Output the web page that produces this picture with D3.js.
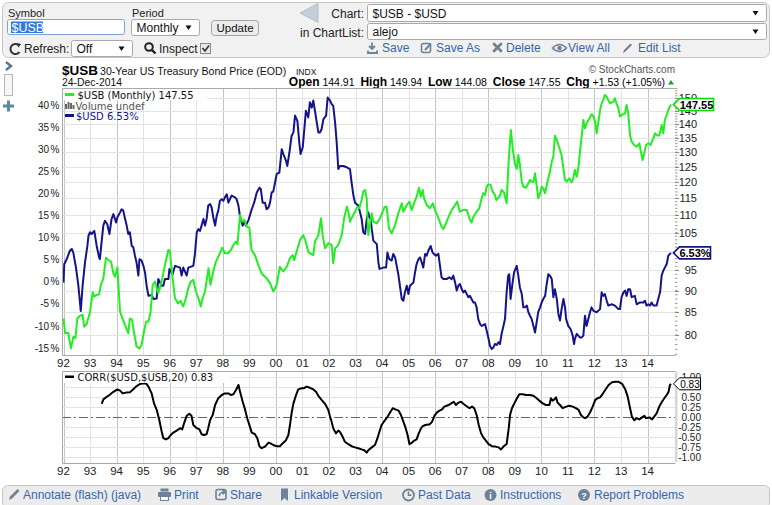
<!DOCTYPE html>
<html><head><meta charset="utf-8"><title>$USB - $USD</title>
<script src="https://cdnjs.cloudflare.com/ajax/libs/d3/7.8.5/d3.min.js"></script>
<style>
html,body{margin:0;padding:0;background:#fff;overflow:hidden}
svg{display:block}
text{font-family:"Liberation Sans",Arial,sans-serif}
.dv{font-family:"DejaVu Sans",Verdana,sans-serif}
</style></head><body>
<svg id="chart" width="772" height="505" viewBox="0 0 772 505"></svg>
<script>
// ---------------- DATA ----------------
const usbDates = [
1992.00,1992.06,1992.18,1992.28,1992.37,1992.45,1992.52,1992.62,1992.72,1992.78,1992.87,
1993.00,1993.10,1993.16,1993.25,1993.34,1993.41,1993.50,1993.60,1993.69,1993.79,1993.88,1993.94,
1994.03,1994.13,1994.22,1994.34,1994.44,1994.50,1994.58,1994.65,1994.75,1994.86,1994.94,
1995.03,1995.11,1995.20,1995.28,1995.36,1995.45,1995.51,1995.57,1995.63,1995.72,1995.82,1995.95,
1996.01,1996.11,1996.20,1996.32,1996.41,1996.51,1996.61,1996.70,1996.79,1996.89,1996.99,
1997.08,1997.17,1997.24,1997.33,1997.46,1997.54,1997.64,1997.74,1997.86,1997.98,
1998.08,1998.21,1998.30,1998.40,1998.48,1998.55,1998.65,1998.73,1998.81,1998.90,
1999.00,1999.08,1999.21,1999.34,1999.46,1999.65,1999.78,1999.90,
2000.03,2000.15,2000.28,2000.41,2000.53,2000.63,2000.69,2000.78,2000.91,
2001.03,2001.10,2001.22,2001.28,2001.41,2001.47,2001.60,2001.70,2001.76,2001.85,2001.97,
2002.10,2002.16,2002.23,2002.35,2002.48,2002.57,2002.67,2002.73,2002.79,2002.85,2002.98,
2003.07,2003.14,2003.23,2003.29,2003.36,2003.42,2003.48,2003.54,2003.61,2003.67,2003.80,2003.92,
2004.02,2004.10,2004.17,2004.26,2004.36,2004.49,2004.61,2004.74,2004.80,2004.93,
2005.03,2005.11,2005.18,2005.30,2005.39,2005.46,2005.53,2005.58,2005.68,2005.80,2005.91,2005.99,
2006.12,2006.24,2006.31,2006.43,2006.56,2006.66,2006.75,2006.83,2006.93,
2007.06,2007.19,2007.31,2007.37,2007.44,2007.56,2007.66,2007.75,2007.81,2007.88,2007.94,
2008.00,2008.09,2008.16,2008.25,2008.30,2008.42,2008.50,2008.59,2008.69,2008.75,2008.79,2008.85,2008.92,
2009.01,2009.07,2009.13,2009.19,2009.26,2009.32,2009.42,2009.51,2009.57,2009.63,2009.70,2009.76,2009.82,2009.88,2009.95,
2010.01,2010.07,2010.14,2010.20,2010.26,2010.32,2010.39,2010.45,2010.51,2010.58,2010.64,2010.70,2010.76,2010.83,2010.89,2010.95,
2011.05,2011.14,2011.20,2011.26,2011.33,2011.39,2011.45,2011.52,2011.58,2011.64,2011.70,2011.80,2011.89,2011.96,
2012.02,2012.08,2012.14,2012.21,2012.27,2012.33,2012.39,2012.46,2012.52,2012.58,2012.71,2012.77,2012.83,2012.90,2012.96,
2013.02,2013.15,2013.21,2013.27,2013.34,2013.40,2013.49,2013.59,2013.69,2013.75,2013.81,2013.86,2013.94,
2014.03,2014.11,2014.19,2014.28,2014.37,2014.44,2014.53,2014.59,2014.65,2014.72,2014.78,2014.84,2014.88];
const usbPrices = [
83.6,80.4,80.4,77.2,79.6,79.4,83.6,84.2,84.4,81.8,82.3,
85.1,89.6,88.6,89.0,89.1,91.4,93.0,98.2,97.6,97.2,94.2,93.4,
95.7,85.1,83.6,81.8,80.4,83.6,83.3,80.7,77.6,77.2,77.9,
80.7,82.9,82.9,85.1,91.4,92.2,90.6,89.4,90.6,93.0,96.3,100.3,
99.8,93.0,88.2,87.0,87.6,86.3,88.2,90.6,92.2,92.6,89.8,
88.2,86.3,88.2,89.8,95.5,91.4,94.7,97.2,98.9,100.9,
99.4,99.4,100.2,101.6,102.5,101.8,110.0,108.1,108.6,106.7,
106.4,100.3,98.9,96.3,94.2,93.0,91.8,89.8,
91.4,95.9,94.7,95.9,98.1,98.9,97.6,99.8,103.0,
104.3,103.0,99.8,99.4,98.9,102.5,104.3,109.1,104.3,100.7,102.1,
101.6,96.8,100.7,101.6,104.3,109.1,112.5,111.0,108.1,109.1,111.0,
112.5,112.0,114.5,117.1,117.6,115.0,104.3,107.2,110.5,108.1,107.6,109.1,
111.0,112.5,112.5,106.2,104.8,107.2,110.5,113.5,111.0,113.0,
114.0,111.5,113.0,115.5,118.3,115.5,117.6,115.0,113.0,112.0,113.5,111.5,
109.1,106.7,106.0,108.1,110.5,112.0,113.0,114.0,111.0,
111.5,111.5,108.6,107.9,109.5,111.0,112.0,115.0,116.6,116.0,118.6,
119.4,119.1,117.1,116.0,114.5,115.5,117.6,116.9,113.5,124.4,130.0,137.9,131.3,
125.7,124.4,129.0,125.7,120.2,118.6,118.3,119.7,120.8,120.2,120.2,122.9,119.1,115.0,116.6,
118.6,118.1,116.6,119.1,121.3,123.4,126.8,128.5,135.8,134.3,132.5,130.8,129.0,124.4,120.8,120.2,
121.3,120.0,121.3,124.0,121.8,124.4,130.0,135.9,141.6,138.5,140.4,142.0,143.8,142.9,
141.0,136.7,140.4,145.4,148.0,149.3,151.3,150.7,149.3,148.0,148.7,150.0,148.0,146.1,142.9,
143.5,144.1,147.4,144.1,135.9,133.7,132.5,131.9,133.1,130.0,127.3,129.0,132.5,
133.1,132.5,134.3,136.7,135.9,135.9,139.7,136.7,141.6,143.5,145.4,146.7,147.55];

const usdDates = [
1992.00,1992.03,1992.12,1992.24,1992.31,1992.37,1992.47,1992.56,1992.65,1992.72,1992.81,1992.90,1992.94,
1993.00,1993.06,1993.16,1993.25,1993.34,1993.37,1993.44,1993.50,1993.56,1993.65,1993.73,1993.81,1993.88,1993.98,
1994.03,1994.13,1994.19,1994.25,1994.32,1994.38,1994.44,1994.50,1994.57,1994.63,1994.69,1994.75,1994.82,1994.86,1994.94,
1995.01,1995.07,1995.13,1995.20,1995.32,1995.38,1995.51,1995.57,1995.70,1995.76,1995.82,1995.95,1995.99,
1996.11,1996.20,1996.39,1996.45,1996.51,1996.64,1996.70,1996.89,1996.95,
1997.02,1997.08,1997.14,1997.20,1997.27,1997.33,1997.39,1997.45,1997.52,1997.58,1997.64,1997.71,1997.77,1997.83,1997.89,1997.96,
1998.02,1998.08,1998.15,1998.21,1998.27,1998.33,1998.46,1998.52,1998.59,1998.65,1998.75,1998.80,1998.87,1998.92,1998.97,
1999.09,1999.18,1999.28,1999.38,1999.43,1999.50,1999.59,1999.65,1999.72,1999.78,1999.84,1999.90,1999.97,
2000.03,2000.13,2000.22,2000.28,2000.38,2000.43,2000.51,2000.59,2000.66,2000.72,2000.81,2000.88,2000.93,
2001.01,2001.07,2001.13,2001.22,2001.28,2001.35,2001.41,2001.47,2001.54,2001.60,2001.66,2001.72,2001.79,2001.89,2001.95,
2002.04,2002.10,2002.16,2002.23,2002.29,2002.35,2002.41,2002.54,2002.67,2002.79,2002.85,2002.92,2002.98,
2003.11,2003.17,2003.23,2003.29,2003.36,2003.42,2003.48,2003.52,2003.57,2003.61,2003.67,2003.80,2003.86,2003.90,
2004.05,2004.15,2004.20,2004.27,2004.36,2004.42,2004.49,2004.55,2004.61,2004.67,2004.74,2004.80,2004.86,2004.93,2004.99,
2005.05,2005.18,2005.24,2005.30,2005.37,2005.43,2005.49,2005.55,2005.62,2005.68,2005.74,2005.83,2005.90,2005.95,
2006.03,2006.12,2006.18,2006.24,2006.31,2006.43,2006.53,2006.62,2006.68,2006.75,2006.81,2006.87,2006.93,
2007.00,2007.06,2007.12,2007.19,2007.25,2007.31,2007.37,2007.44,2007.50,2007.56,2007.62,2007.69,2007.75,2007.81,2007.88,2007.94,
2008.00,2008.06,2008.13,2008.19,2008.25,2008.32,2008.38,2008.44,2008.50,2008.57,2008.63,2008.69,2008.75,2008.79,2008.84,2008.90,2008.97,
2009.07,2009.13,2009.19,2009.26,2009.32,2009.38,2009.45,2009.51,2009.57,2009.63,2009.70,2009.76,2009.82,2009.88,2009.95,
2010.01,2010.07,2010.14,2010.20,2010.26,2010.32,2010.39,2010.45,2010.51,2010.58,2010.64,2010.70,2010.76,2010.83,2010.89,2010.93,
2011.01,2011.10,2011.18,2011.23,2011.26,2011.33,2011.39,2011.45,2011.52,2011.58,2011.64,2011.70,2011.77,2011.83,2011.89,2011.96,
2012.08,2012.21,2012.27,2012.33,2012.39,2012.46,2012.52,2012.65,2012.77,2012.90,2012.96,
2013.02,2013.09,2013.15,2013.21,2013.27,2013.34,2013.40,2013.52,2013.59,2013.71,2013.84,2013.90,2013.96,
2014.03,2014.09,2014.15,2014.22,2014.34,2014.40,2014.47,2014.53,2014.59,2014.65,2014.72,2014.78,2014.88];
const usdPct = [
-0.2,4.0,5.1,7.0,7.4,6.6,3.2,-0.9,-6.6,-0.9,4.4,8.1,10.4,
11.2,10.8,11.5,8.1,5.5,5.1,9.3,12.7,13.8,13.0,10.8,14.2,15.3,13.4,
14.6,15.7,16.4,16.1,14.2,12.7,10.8,11.2,8.1,7.8,5.9,4.4,1.4,5.1,4.8,
3.6,2.1,-0.9,-3.2,-3.0,-3.9,-3.8,0.6,-0.9,-0.9,0.6,0.6,2.9,
1.7,3.6,3.2,1.4,3.2,1.4,3.2,3.6,6.3,
11.2,11.9,11.5,12.7,14.2,12.7,14.2,17.2,17.6,16.8,14.6,12.7,14.9,16.1,18.3,18.7,
18.3,19.1,19.8,17.9,18.7,19.5,19.1,18.7,17.2,14.6,12.7,13.8,12.7,13.4,14.0,
16.4,17.9,20.2,21.3,21.0,17.9,17.9,16.4,16.8,17.9,20.2,20.4,22.5,
24.4,24.7,30.0,28.9,27.4,26.2,29.3,33.0,33.8,37.6,36.4,31.5,28.9,
30.4,34.5,38.7,37.2,40.6,39.4,41.0,38.7,36.0,33.8,33.8,34.5,36.8,37.6,41.7,
41.0,40.2,39.8,36.0,31.5,25.5,26.2,26.2,25.9,25.5,22.5,19.5,17.9,
17.2,15.7,14.2,11.2,10.8,14.2,15.7,14.6,14.2,11.9,9.3,8.5,4.4,2.9,
3.2,3.2,6.6,5.1,4.8,6.3,5.5,3.6,1.7,-0.9,-3.9,-4.3,-2.4,-0.9,-2.8,
-0.9,-0.2,2.1,4.0,5.1,5.5,4.4,3.2,6.3,5.9,7.0,8.1,6.6,6.3,
5.9,6.3,3.6,1.0,0.6,0.6,1.0,0.6,1.4,-0.2,-2.0,-0.9,-0.5,
-1.7,-2.4,-2.0,-2.8,-3.5,-3.2,-3.9,-4.7,-4.7,-5.8,-8.4,-9.6,-10.0,-9.8,-9.6,-11.1,
-12.6,-14.5,-15.2,-14.9,-14.1,-14.3,-13.7,-14.1,-11.8,-10.0,-8.4,-2.4,1.4,1.7,-3.9,-0.9,2.1,
3.6,1.4,-1.3,-2.8,-5.8,-5.8,-5.4,-6.9,-7.7,-8.4,-10.0,-11.5,-9.2,-6.9,-5.8,
-4.7,-3.9,-3.2,-0.5,1.7,1.4,0.6,-3.5,-1.7,-3.9,-7.3,-8.8,-6.2,-3.9,-5.8,-8.4,
-10.0,-10.7,-12.2,-14.1,-13.0,-11.8,-12.2,-12.6,-12.6,-12.2,-7.7,-10.0,-8.4,-6.9,-5.8,-6.6,
-6.9,-6.2,-2.4,-3.2,-2.8,-4.3,-5.4,-5.1,-5.4,-6.2,-6.2,
-3.5,-2.4,-2.0,-3.2,-1.7,-1.7,-3.5,-3.2,-5.1,-4.7,-4.7,-4.3,-5.4,
-5.1,-5.4,-4.7,-5.4,-5.4,-3.9,-2.4,1.4,2.5,3.2,4.0,5.9,6.53];

const corrDates = [
1993.44,1993.50,1993.60,1993.73,1993.88,
1994.03,1994.13,1994.23,1994.35,1994.50,1994.61,1994.73,1994.86,1994.98,
1995.11,1995.20,1995.32,1995.41,1995.51,1995.61,1995.70,1995.76,1995.86,1995.95,
1996.04,1996.14,1996.26,1996.39,1996.47,1996.54,1996.64,1996.74,1996.82,1996.89,
1997.02,1997.12,1997.20,1997.29,1997.39,1997.45,1997.52,1997.62,1997.71,1997.83,1997.96,
1998.08,1998.21,1998.30,1998.40,1998.50,1998.59,1998.65,1998.75,1998.84,1998.92,
1999.02,1999.09,1999.21,1999.30,1999.38,1999.46,1999.59,1999.72,1999.80,1999.90,
2000.03,2000.15,2000.25,2000.38,2000.47,2000.53,2000.59,2000.66,2000.76,2000.84,2000.97,
2001.06,2001.16,2001.28,2001.41,2001.51,2001.60,2001.72,2001.85,2001.97,
2002.04,2002.10,2002.16,2002.26,2002.35,2002.41,2002.51,2002.60,2002.73,2002.85,2002.98,
2003.10,2003.23,2003.33,2003.42,2003.48,2003.61,2003.73,2003.80,2003.90,2003.98,
2004.11,2004.21,2004.30,2004.40,2004.50,2004.62,2004.71,2004.78,2004.88,2004.96,
2005.03,2005.13,2005.21,2005.30,2005.38,2005.47,2005.53,2005.63,2005.80,2005.88,2005.97,
2006.06,2006.16,2006.26,2006.34,2006.43,2006.51,2006.60,2006.70,2006.78,2006.88,2006.97,
2007.06,2007.16,2007.29,2007.39,2007.47,2007.56,2007.64,2007.73,2007.81,2007.91,
2008.01,2008.14,2008.27,2008.39,2008.48,2008.57,2008.64,2008.69,2008.77,2008.82,2008.89,2008.98,
2009.08,2009.17,2009.30,2009.42,2009.57,2009.70,2009.82,2009.92,
2010.05,2010.17,2010.30,2010.36,2010.42,2010.49,2010.55,2010.61,2010.70,2010.80,2010.93,
2011.05,2011.18,2011.30,2011.40,2011.49,2011.58,2011.65,2011.74,2011.83,2011.93,
2012.03,2012.12,2012.21,2012.31,2012.41,2012.53,2012.66,2012.79,2012.91,
2013.04,2013.16,2013.25,2013.34,2013.41,2013.50,2013.59,2013.69,2013.79,2013.88,2013.94,
2014.07,2014.17,2014.25,2014.34,2014.44,2014.54,2014.63,2014.72,2014.79,2014.84,2014.88];
const corrValues = [
0.33,0.44,0.49,0.55,0.63,
0.69,0.66,0.59,0.61,0.62,0.68,0.76,0.82,0.84,
0.84,0.76,0.59,0.34,0.18,-0.08,-0.37,-0.53,-0.56,-0.53,
-0.45,-0.39,-0.34,-0.28,-0.31,-0.16,0.03,0.08,0.03,-0.20,
-0.28,-0.31,-0.43,-0.45,-0.43,-0.28,-0.08,0.05,0.30,0.47,0.55,
0.59,0.59,0.55,0.57,0.68,0.80,0.63,0.38,0.18,-0.03,
-0.24,-0.39,-0.43,-0.53,-0.73,-0.78,-0.74,-0.64,-0.66,-0.70,
-0.73,-0.73,-0.66,-0.58,-0.45,-0.20,0.09,0.34,0.55,0.69,0.72,
0.72,0.76,0.73,0.69,0.63,0.53,0.43,0.33,0.18,
0.01,-0.12,-0.28,-0.41,-0.34,-0.37,-0.49,-0.62,-0.68,-0.73,-0.76,
-0.78,-0.81,-0.83,-0.89,-0.83,-0.76,-0.70,-0.58,-0.37,-0.20,
-0.08,0.01,0.11,0.22,0.19,0.16,0.05,-0.08,-0.26,-0.45,
-0.68,-0.64,-0.59,-0.56,-0.41,-0.28,-0.23,-0.20,-0.18,-0.12,0.03,
0.11,0.16,0.19,0.26,0.28,0.30,0.34,0.38,0.30,0.36,0.38,
0.33,0.28,0.22,0.26,0.22,0.05,-0.20,-0.41,-0.51,-0.59,
-0.68,-0.73,-0.74,-0.76,-0.81,-0.74,-0.70,-0.68,-0.28,0.05,0.22,0.34,
0.47,0.57,0.57,0.55,0.55,0.53,0.47,0.41,
0.34,0.30,0.30,0.47,0.41,0.44,0.49,0.36,0.30,0.22,0.26,
0.28,0.26,0.22,0.18,0.05,-0.01,-0.03,0.01,0.11,0.26,
0.43,0.47,0.49,0.58,0.68,0.80,0.87,0.88,0.88,
0.83,0.69,0.51,0.22,0.01,-0.08,-0.03,-0.06,-0.01,0.03,-0.03,
-0.01,-0.06,0.01,0.09,0.26,0.38,0.47,0.55,0.63,0.80,0.83];

const yearTicks = d3.range(1992, 2015);
const yearLabels = ["92","93","94","95","96","97","98","99","00","01","02","03","04","05","06","07","08","09","10","11","12","13","14"];
const priceTicks = [80,85,90,95,100,105,110,115,120,125,130,135,140,145,150];
const pctTicks = [-15,-10,-5,0,5,10,15,20,25,30,35,40];
const corrTicks = [-1,-0.75,-0.5,-0.25,0,0.25,0.5,0.75,1];
const lastUsb = 147.55, lastUsd = 6.53, lastCorr = 0.83;

// ---------------- SETUP ----------------
const svg = d3.select("#chart");
const LINK = "#3767a8", ICON = "#6d8198", GREEN = "#22ee22", NAVY = "#14148a";
const M = {l:62, r:675, t:88, b:355};
const C = {l:62, r:675, t:371, b:463};

const x = d3.scaleLinear().domain([1992, 2015]).range([63.5, 674.15]);
const yP = d3.scaleLog().domain([80, 150]).range([335, 98.3]);
const yPct = d3.scaleLinear().domain([-15, 40]).range([348, 105]);
const yC = d3.scaleLinear().domain([-1, 1]).range([457, 377]);

function txt(g, xx, yy, t, o = {}) {
  const e = g.append("text").attr("x", xx).attr("y", yy).text(t)
    .attr("font-size", o.size || 12).attr("fill", o.fill || "#222");
  if (o.anchor) e.attr("text-anchor", o.anchor);
  if (o.weight) e.attr("font-weight", o.weight);
  if (o.cls) e.attr("class", o.cls);
  return e;
}
function arrowDown(g, cx, cy) {
  g.append("path").attr("d", `M${cx-3},${cy-2}L${cx+3},${cy-2}L${cx},${cy+2.5}Z`).attr("fill", "#111");
}
function selectBox(g, xx, yy, w, h, t) {
  g.append("rect").attr("x", xx).attr("y", yy).attr("width", w).attr("height", h).attr("rx", 2)
    .attr("fill", "#fff").attr("stroke", "#a9a9a9");
  txt(g, xx + 5, yy + h - 4, t, {size: 12, fill: "#111"});
  arrowDown(g, xx + w - 11, yy + h / 2);
}

// ---------------- TOP TOOLBAR ----------------
const tb = svg.append("g");
tb.append("rect").attr("x", 2.5).attr("y", 2.5).attr("width", 767).attr("height", 55).attr("rx", 6)
  .attr("fill", "#f1f1f1").attr("stroke", "#c6c6c6");
txt(tb, 8, 17, "Symbol", {size: 11});
tb.append("rect").attr("x", 7.5).attr("y", 19.5).attr("width", 117).attr("height", 15).attr("rx", 2)
  .attr("fill", "#fff").attr("stroke", "#7fa4d4");
tb.append("rect").attr("x", 11).attr("y", 21.5).attr("width", 32).attr("height", 11.5).attr("fill", "#3379d8");
txt(tb, 11.5, 31.5, "$USB", {size: 12.5, fill: "#fff"});
txt(tb, 132, 17, "Period", {size: 11});
selectBox(tb, 131.5, 19.5, 68, 16, "Monthly");
tb.append("rect").attr("x", 211.5).attr("y", 20.5).attr("width", 47).attr("height", 15).attr("rx", 3)
  .attr("fill", "#ececec").attr("stroke", "#a3a3a3");
txt(tb, 235, 32, "Update", {size: 11.5, anchor: "middle", fill: "#111"});
tb.append("path").attr("d", "M19,45.5 A5,5 0 1 0 19.5,52").attr("fill", "none").attr("stroke", "#333").attr("stroke-width", 2);
tb.append("path").attr("d", "M16.5,43 L21,44 L18.5,47.5 Z").attr("fill", "#333");
txt(tb, 24, 53, "Refresh:", {size: 12});
selectBox(tb, 71.5, 40.5, 61, 16, "Off");
tb.append("circle").attr("cx", 149).attr("cy", 47).attr("r", 3.8).attr("fill", "none").attr("stroke", "#222").attr("stroke-width", 2);
tb.append("line").attr("x1", 151.8).attr("y1", 49.8).attr("x2", 155.5).attr("y2", 53.5).attr("stroke", "#222").attr("stroke-width", 2.4);
txt(tb, 159, 53, "Inspect", {size: 12});
tb.append("rect").attr("x", 200.5).attr("y", 43.5).attr("width", 10).attr("height", 10).attr("fill", "#e9e9e9").attr("stroke", "#8a8a8a");
tb.append("path").attr("d", "M202.5,48 L205,51 L209,45.5").attr("fill", "none").attr("stroke", "#333").attr("stroke-width", 1.6);
tb.append("path").attr("d", "M300,13 L318,3.5 L318,22.5 Z").attr("fill", "#c3cedb").attr("stroke", "#b2bfcd");
txt(tb, 364, 17.5, "Chart:", {size: 12, anchor: "end"});
selectBox(tb, 367.5, 4.5, 399, 17, "$USB - $USD");
txt(tb, 364, 36.5, "in ChartList:", {size: 12, anchor: "end"});
selectBox(tb, 367.5, 23.5, 399, 16, "alejo");
const links = [{x: 382, t: "Save"}, {x: 436, t: "Save As"}, {x: 506, t: "Delete"}, {x: 568, t: "View All"}, {x: 638, t: "Edit List"}];
links.forEach(l => txt(tb, l.x, 52, l.t, {size: 12, fill: LINK}));
tb.append("path").attr("d", "M372,42.5 v6 M369,46 l3,3 l3,-3 M368,50.5 v2.5 h9 v-2.5").attr("fill", "none").attr("stroke", ICON).attr("stroke-width", 1.8);
tb.append("rect").attr("x", 421.5).attr("y", 43.5).attr("width", 9).attr("height", 9).attr("rx", 2).attr("fill", "none").attr("stroke", ICON).attr("stroke-width", 1.6);
tb.append("path").attr("d", "M425,50 L431,43.5").attr("stroke", ICON).attr("stroke-width", 2);
tb.append("path").attr("d", "M494,44 L501,51 M501,44 L494,51").attr("stroke", ICON).attr("stroke-width", 2.8).attr("stroke-linecap", "round");
tb.append("path").attr("d", "M552.5,48 Q559.5,41 566.5,48 Q559.5,55 552.5,48 Z").attr("fill", "none").attr("stroke", ICON).attr("stroke-width", 1.6);
tb.append("circle").attr("cx", 559.5).attr("cy", 48).attr("r", 2.2).attr("fill", ICON);
tb.append("path").attr("d", "M623,53 L624,50 L630.5,43.5 L632,45 L625.5,51.5 Z").attr("fill", ICON);

// ---------------- SIDEBAR ----------------
const sb = svg.append("g");
sb.append("path").attr("d", "M6,62 L11,66 L6,70").attr("fill", "none").attr("stroke", "#4f7894").attr("stroke-width", 2.4);
sb.append("rect").attr("x", 4.5).attr("y", 74.5).attr("width", 8).attr("height", 21).attr("fill", "#f6f6f6").attr("stroke", "#b9b9b9");
sb.append("rect").attr("x", 3).attr("y", 104.5).attr("width", 11).attr("height", 3).attr("fill", "#5e88a4");
sb.append("rect").attr("x", 7).attr("y", 100.5).attr("width", 3).attr("height", 11).attr("fill", "#5e88a4");

// ---------------- HEADER ----------------
const hd = svg.append("g");
txt(hd, 62, 75, "$USB", {size: 13.5, weight: "bold", fill: "#000"});
txt(hd, 100, 75, "30-Year US Treasury Bond Price (EOD)", {size: 10.6, fill: "#111"});
txt(hd, 296, 75, "INDX", {size: 8.5, fill: "#111"});
txt(hd, 62, 86, "24-Dec-2014", {size: 10.4, fill: "#111"});
txt(hd, 675, 73, "\u00A9 StockCharts.com", {size: 10, fill: "#555", anchor: "end"});
const ohlc = hd.append("text").attr("x", 665).attr("y", 86).attr("text-anchor", "end").attr("fill", "#000").attr("xml:space", "preserve");
[["Open", 1], [" 144.91  ", 0], ["High", 1], [" 149.94  ", 0], ["Low", 1], [" 144.08  ", 0],
 ["Close", 1], [" 147.55  ", 0], ["Chg", 1], [" +1.53 (+1.05%)", 0]].forEach(([s, b]) => {
  ohlc.append("tspan").text(s).attr("font-weight", b ? "bold" : "normal").attr("font-size", b ? 12 : 10.5);
});
hd.append("path").attr("d", "M668,84.5 L674,84.5 L671,80 Z").attr("fill", "#1e9e2a");

// ---------------- PANELS: GRID ----------------
function panelGrid(P) {
  const g = svg.append("g");
  g.append("rect").attr("x", P.l + 0.5).attr("y", P.t + 0.5).attr("width", P.r - P.l).attr("height", P.b - P.t)
    .attr("fill", "#fff");
  g.selectAll("line.v").data(yearTicks).join("line")
    .attr("x1", d => Math.round(x(d)) + 0.5).attr("x2", d => Math.round(x(d)) + 0.5)
    .attr("y1", P.t).attr("y2", P.b)
    .attr("stroke", d => d % 2 === 0 ? "#c4c4c4" : "#e3e3e3").attr("stroke-width", 1);
  return g;
}
const gMain = panelGrid(M);
gMain.selectAll("line.h").data(priceTicks).join("line")
  .attr("x1", M.l).attr("x2", M.r).attr("y1", d => Math.round(yP(d)) + 0.5).attr("y2", d => Math.round(yP(d)) + 0.5)
  .attr("stroke", "#e3e3e3");
const gCorr = panelGrid(C);
gCorr.selectAll("line.h").data(corrTicks.filter(d => d !== 0)).join("line")
  .attr("x1", C.l).attr("x2", C.r).attr("y1", d => Math.round(yC(d)) + 0.5).attr("y2", d => Math.round(yC(d)) + 0.5)
  .attr("stroke", "#e3e3e3");
gCorr.append("line").attr("x1", C.l).attr("x2", C.r).attr("y1", Math.round(yC(0)) + 0.5).attr("y2", Math.round(yC(0)) + 0.5)
  .attr("stroke", "#666").attr("stroke-dasharray", "9,3,2,3");

[M, C].forEach(P => {
  svg.append("path").attr("d", `M${P.r + 0.5},${P.t + 0.5}H${P.l + 0.5}V${P.b + 0.5}H${P.r + 0.5}`)
    .attr("fill", "none").attr("stroke", "#a9a9a9");
});
svg.append("g").selectAll("line").data(d3.range(76, 155)).join("line")
  .attr("x1", M.r).attr("x2", M.r + 2.5).attr("y1", d => yP(d)).attr("y2", d => yP(d))
  .attr("stroke", "#9a9a9a").attr("stroke-width", 1);
svg.append("g").selectAll("line").data(priceTicks).join("line")
  .attr("x1", M.r).attr("x2", M.r + 4).attr("y1", d => Math.round(yP(d)) + 0.5).attr("y2", d => Math.round(yP(d)) + 0.5)
  .attr("stroke", "#888");
svg.append("g").selectAll("line").data(d3.range(-22, 23).map(i => i * 0.05)).join("line")
  .attr("x1", C.r).attr("x2", C.r + 2.5).attr("y1", d => yC(d)).attr("y2", d => yC(d))
  .attr("stroke", "#9a9a9a").attr("stroke-width", 0.8);

// ---------------- AXES LABELS ----------------
// labels that sit fully under a last-value tag are hidden in the reference
const tagRanges = [
  {scale: "p", y: yP(lastUsb)}, {scale: "p", y: yPct(lastUsd)}, {scale: "c", y: yC(lastCorr)}];
function hiddenUnderTag(kind, yy) {
  return tagRanges.some(t => t.scale === kind && Math.abs(t.y - yy) < 3.5);
}
const ax = svg.append("g");
ax.selectAll("text.pct").data(pctTicks).join("text")
  .attr("x", 59.5).attr("y", d => yPct(d) + 3.6).attr("text-anchor", "end").attr("font-size", 10).attr("fill", "#222")
  .each(function(d) {
    d3.select(this).append("tspan").text(d);
    d3.select(this).append("tspan").attr("dx", 1.5).text("%");
  });
ax.selectAll("text.pr").data(priceTicks.filter(d => !hiddenUnderTag("p", yP(d)))).join("text")
  .attr("x", 697).attr("y", d => yP(d) + 4).attr("text-anchor", "end").attr("font-size", 11).attr("fill", "#222")
  .text(d => d);
ax.selectAll("text.cr").data(corrTicks.filter(d => !hiddenUnderTag("c", yC(d)))).join("text")
  .attr("x", 701).attr("y", d => yC(d) + 3.6).attr("text-anchor", "end").attr("font-size", 10).attr("fill", "#222")
  .text(d => d.toFixed(2));
[367, 475].forEach(yy => {
  ax.append("g").selectAll("text").data(yearTicks).join("text")
    .attr("x", d => x(d)).attr("y", yy).attr("text-anchor", "middle").attr("font-size", 11.5).attr("fill", "#222")
    .text((d, i) => yearLabels[i]);
});

// ---------------- SERIES ----------------
svg.append("clipPath").attr("id", "clipM").append("rect").attr("x", M.l + 1).attr("y", M.t + 1).attr("width", M.r - M.l - 1).attr("height", M.b - M.t - 1);
svg.append("clipPath").attr("id", "clipC").append("rect").attr("x", C.l + 1).attr("y", C.t + 1).attr("width", C.r - C.l - 1).attr("height", C.b - C.t - 1);

const usb = usbDates.map((t, i) => ({t, v: usbPrices[i]}));
const usd = usdDates.map((t, i) => ({t, v: usdPct[i]}));
const corr = corrDates.map((t, i) => ({t, v: corrValues[i]}));

const gS = svg.append("g").attr("clip-path", "url(#clipM)");
gS.append("path").datum(usd).attr("d", d3.line().x(d => x(d.t)).y(d => yPct(d.v)))
  .attr("fill", "none").attr("stroke", NAVY).attr("stroke-width", 2).attr("stroke-linejoin", "round");
gS.append("path").datum(usb).attr("d", d3.line().x(d => x(d.t)).y(d => yP(d.v)))
  .attr("fill", "none").attr("stroke", GREEN).attr("stroke-width", 2).attr("stroke-linejoin", "round");
svg.append("g").attr("clip-path", "url(#clipC)").append("path").datum(corr)
  .attr("d", d3.line().x(d => x(d.t)).y(d => yC(d.v)))
  .attr("fill", "none").attr("stroke", "#000").attr("stroke-width", 2).attr("stroke-linejoin", "round");

// ---------------- LEGENDS ----------------
const lg = svg.append("g");
lg.append("rect").attr("x", 63).attr("y", 89).attr("width", 144).attr("height", 11).attr("fill", "#fff");
lg.append("rect").attr("x", 65).attr("y", 93).attr("width", 9).attr("height", 3).attr("fill", GREEN);
txt(lg, 77.5, 98.5, "$USB (Monthly) 147.55", {size: 10, fill: "#111", cls: "dv"});
[[65, 104, 5], [67.5, 102, 7], [70, 103, 6], [72.5, 105, 4]].forEach(([bx, by, bh]) =>
  lg.append("rect").attr("x", bx).attr("y", by).attr("width", 2).attr("height", bh).attr("fill", "#666"));
txt(lg, 75.5, 109.5, "Volume undef", {size: 10, fill: "#555", cls: "dv"});
lg.append("rect").attr("x", 65).attr("y", 114).attr("width", 9).attr("height", 3).attr("fill", NAVY);
txt(lg, 76, 119.5, "$USD 6.53%", {size: 10, fill: NAVY, cls: "dv"});

lg.append("rect").attr("x", 63).attr("y", 372).attr("width", 168).attr("height", 11).attr("fill", "#fff");
lg.append("rect").attr("x", 65).attr("y", 375.5).attr("width", 9).attr("height", 2.5).attr("fill", "#000");
txt(lg, 77.5, 381, "CORR($USD,$USB,20) 0.83", {size: 10, fill: "#111", cls: "dv"});

// ---------------- VALUE TAGS ----------------
function tag(yc, w, label, stroke, bold, size) {
  const g = svg.append("g");
  const x0 = 673.5, h = 12;
  g.append("path").attr("d", `M${x0},${yc} L${x0 + 6},${yc - h / 2} H${x0 + 6 + w} V${yc + h / 2} H${x0 + 6} Z`)
    .attr("fill", "#fff").attr("stroke", stroke).attr("stroke-width", bold ? 1.6 : 1);
  txt(g, x0 + 6 + w / 2, yc + 4, label, {size: size, anchor: "middle", fill: "#000", weight: bold ? "bold" : "normal"});
}
tag(yP(lastUsb), 34, "147.55", "#00dd00", true, 11);
tag(yPct(lastUsd), 31, lastUsd.toFixed(2) + "%", NAVY, true, 11);
tag(yC(lastCorr), 21, lastCorr.toFixed(2), "#000", false, 10);

// ---------------- FOOTER ----------------
const ft = svg.append("g");
ft.append("rect").attr("x", 2.5).attr("y", 485.5).attr("width", 767).attr("height", 22).attr("rx", 5)
  .attr("fill", "#ececec").attr("stroke", "#c4c4c4");
[[23, "Annotate (flash) (java)"], [174, "Print"], [230, "Share"], [294, "Linkable Version"],
 [418, "Past Data"], [500, "Instructions"], [594, "Report Problems"]].forEach(([fx, t]) =>
  txt(ft, fx, 498.5, t, {size: 12, fill: LINK}));
ft.append("path").attr("d", "M9,500 L10,496.5 L17.5,489 L19.5,491 L12,498.5 Z").attr("fill", ICON);
ft.append("rect").attr("x", 160.5).attr("y", 488.5).attr("width", 8).attr("height", 3).attr("fill", ICON);
ft.append("rect").attr("x", 158).attr("y", 492).attr("width", 13).attr("height", 5).attr("rx", 1).attr("fill", ICON);
ft.append("rect").attr("x", 160.5).attr("y", 496.5).attr("width", 8).attr("height", 4).attr("fill", "#fff").attr("stroke", ICON);
ft.append("rect").attr("x", 216).attr("y", 489.5).attr("width", 10).attr("height", 10).attr("rx", 2).attr("fill", "none").attr("stroke", ICON).attr("stroke-width", 1.6);
ft.append("path").attr("d", "M219,496 Q220,492 224.5,492 M222.5,489.8 L225.5,492 L222.5,494.2").attr("fill", "none").attr("stroke", ICON).attr("stroke-width", 1.6);
ft.append("path").attr("d", "M281,488.5 H288 V501 L284.5,498 L281,501 Z").attr("fill", ICON);
ft.append("circle").attr("cx", 408.5).attr("cy", 495).attr("r", 5.5).attr("fill", "none").attr("stroke", ICON).attr("stroke-width", 1.8);
ft.append("path").attr("d", "M408.5,491.5 V495.3 H411.5").attr("fill", "none").attr("stroke", ICON).attr("stroke-width", 1.5);
ft.append("circle").attr("cx", 490.5).attr("cy", 495).attr("r", 6).attr("fill", ICON);
txt(ft, 490.5, 499, "i", {size: 9, anchor: "middle", fill: "#fff", weight: "bold"});
ft.append("circle").attr("cx", 584).attr("cy", 495).attr("r", 6).attr("fill", ICON);
txt(ft, 584, 499, "?", {size: 9, anchor: "middle", fill: "#fff", weight: "bold"});
</script>
</body></html>
